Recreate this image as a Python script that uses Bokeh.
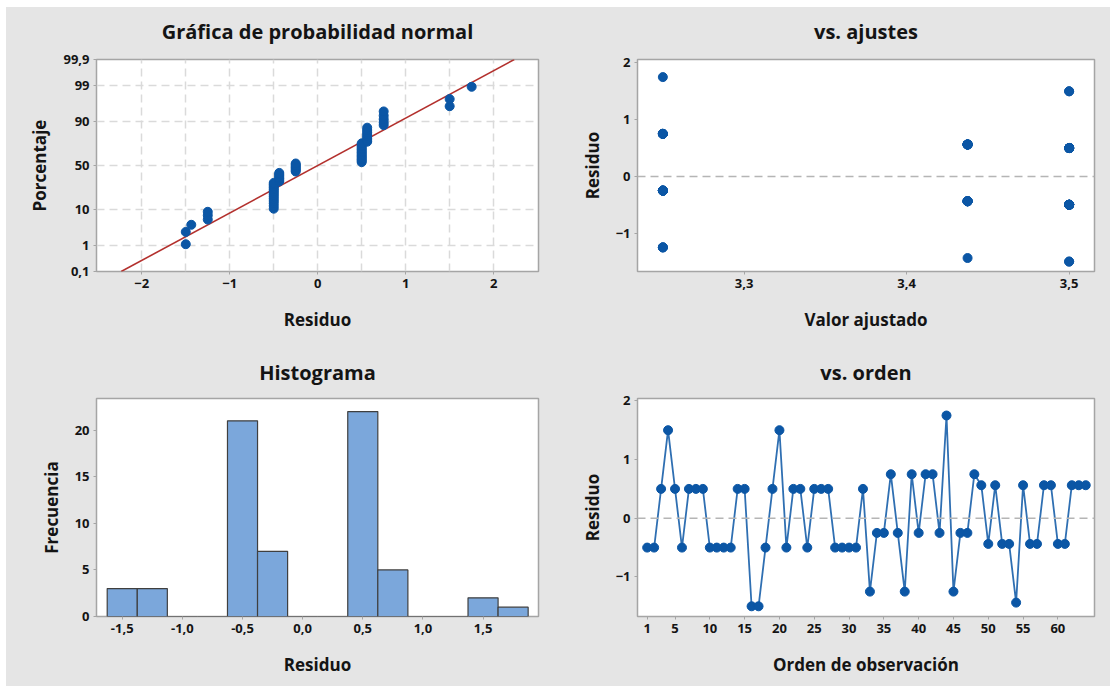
import statistics

import numpy as np
from bokeh.embed import file_html
from bokeh.layouts import column, row
from bokeh.models import FixedTicker, Span
from bokeh.plotting import figure
from bokeh.resources import INLINE

# Residuals in observation order (1..64)
residuo = [
    -0.5, -0.5, 0.5, 1.5, 0.5, -0.5, 0.5, 0.5,
    0.5, -0.5, -0.5, -0.5, -0.5, 0.5, 0.5, -1.5,
    -1.5, -0.5, 0.5, 1.5, -0.5, 0.5, 0.5, -0.5,
    0.5, 0.5, 0.5, -0.5, -0.5, -0.5, -0.5, 0.5,
    -1.25, -0.25, -0.25, 0.75, -0.25, -1.25, 0.75, -0.25,
    0.75, 0.75, -0.25, 1.75, -1.25, -0.25, -0.25, 0.75,
    0.5625, -0.4375, 0.5625, -0.4375, -0.4375, -1.4375, 0.5625, -0.4375,
    -0.4375, 0.5625, 0.5625, -0.4375, -0.4375, 0.5625, 0.5625, 0.5625,
]

# Fitted values in observation order
ajuste = [
    3.5, 3.5, 3.5, 3.5, 3.5, 3.5, 3.5, 3.5,
    3.5, 3.5, 3.5, 3.5, 3.5, 3.5, 3.5, 3.5,
    3.5, 3.5, 3.5, 3.5, 3.5, 3.5, 3.5, 3.5,
    3.5, 3.5, 3.5, 3.5, 3.5, 3.5, 3.5, 3.5,
    3.25, 3.25, 3.25, 3.25, 3.25, 3.25, 3.25, 3.25,
    3.25, 3.25, 3.25, 3.25, 3.25, 3.25, 3.25, 3.25,
    3.4375, 3.4375, 3.4375, 3.4375, 3.4375, 3.4375, 3.4375, 3.4375,
    3.4375, 3.4375, 3.4375, 3.4375, 3.4375, 3.4375, 3.4375, 3.4375,
]

orden = list(range(1, len(residuo) + 1))

# Tick labels (decimal comma)
pct_ticks = [0.1, 1, 10, 50, 90, 99, 99.9]
pct_labels = ["0,1", "1", "10", "50", "90", "99", "99,9"]
hist_ticks = [-1.5, -1.0, -0.5, 0.0, 0.5, 1.0, 1.5]
hist_labels = ["-1,5", "-1,0", "-0,5", "0,0", "0,5", "1,0", "1,5"]
fit_ticks = [3.3, 3.4, 3.5]
fit_labels = ["3,3", "3,4", "3,5"]
order_ticks = [1, 5, 10, 15, 20, 25, 30, 35, 40, 45, 50, 55, 60]

BG = "#e5e5e5"
BLUE = "#0b56a5"
FONT = "Open Sans"
TXT = "#141414"


def panel(w, h, left, right, top, bottom, x_range, y_range, title, title_gap):
    p = figure(width=w, height=h, x_range=x_range, y_range=y_range,
               output_backend="svg", toolbar_location=None,
               min_border_left=left, min_border_right=right,
               min_border_top=top, min_border_bottom=bottom)
    # the grey surround is painted by the enclosing layout
    p.border_fill_color = None
    p.background_fill_color = "white"
    p.outline_line_color = "#a5a5a5"
    p.outline_line_width = 1.5
    p.title.text = title
    p.title.align = "center"
    p.title.text_font = FONT
    p.title.text_font_size = "20px"
    p.title.text_font_style = "bold"
    p.title.text_color = TXT
    p.title.standoff = title_gap
    p.grid.visible = False
    for ax in p.axis:
        ax.axis_line_color = None
        ax.major_tick_out = 3
        ax.major_tick_in = 0
        ax.minor_tick_out = 0
        ax.minor_tick_in = 0
        ax.major_tick_line_color = "#a5a5a5"
        ax.major_label_text_font = FONT
        ax.major_label_text_font_size = "13px"
        ax.major_label_text_font_style = "bold"
        ax.major_label_text_color = TXT
        ax.major_label_standoff = 4
        ax.axis_label_text_font = FONT
        ax.axis_label_text_font_size = "17px"
        ax.axis_label_text_font_style = "bold"
        ax.axis_label_text_color = TXT
    p.xaxis.axis_label_standoff = 17
    p.yaxis.axis_label_standoff = 9
    return p


def zero_line(p):
    p.add_layout(Span(location=0, dimension="width", line_color="#b5b5b5",
                      line_width=1.5, line_dash="8 5"))


# --- Normal probability plot -------------------------------------------
nd = statistics.NormalDist()
n = len(residuo)
res_sorted = sorted(residuo)
z_rank = [nd.inv_cdf((i + 1 - 0.3) / (n + 0.4)) for i in range(n)]
media = statistics.mean(residuo)
desv = statistics.stdev(residuo)
z_lo, z_hi = nd.inv_cdf(0.001), nd.inv_cdf(0.999)
z_ticks = [nd.inv_cdf(v / 100) for v in pct_ticks]

p1 = panel(555, 343, 96, 17, 59, 72, (-2.515, 2.51),
           (z_lo - 1e-6, z_hi + 1e-6), "Gráfica de probabilidad normal", 29)
p1.xaxis.ticker = FixedTicker(ticks=[-2, -1, 0, 1, 2])
p1.yaxis.ticker = FixedTicker(ticks=z_ticks)
p1.yaxis.major_label_overrides = dict(zip(z_ticks, pct_labels))
p1.xaxis.axis_label = "Residuo"
p1.yaxis.axis_label = "Porcentaje"
p1.xgrid.visible = True
p1.ygrid.visible = True
p1.xgrid.ticker = FixedTicker(ticks=[-2, -1.5, -1, -0.5, 0, 0.5, 1, 1.5, 2])
p1.ygrid.ticker = FixedTicker(ticks=z_ticks[1:-1])
for g in (p1.xgrid, p1.ygrid):
    g.grid_line_color = "#dadada"
    g.grid_line_width = 1.5
    g.grid_line_dash = "8 5"
p1.line([media + desv * z_lo, media + desv * z_hi], [z_lo, z_hi],
        line_color="#b3302d", line_width=1.6)
p1.scatter(res_sorted, z_rank, size=9, fill_color=BLUE, line_color=BLUE)

# --- Residuals vs fitted ------------------------------------------------
p2 = panel(555, 343, 82, 16, 59, 72, (3.2344, 3.5156), (-1.675, 2.06),
           "vs. ajustes", 29)
p2.xaxis.ticker = FixedTicker(ticks=fit_ticks)
p2.xaxis.major_label_overrides = dict(zip(fit_ticks, fit_labels))
p2.yaxis.ticker = FixedTicker(ticks=[-1, 0, 1, 2])
p2.xaxis.axis_label = "Valor ajustado"
p2.yaxis.axis_label = "Residuo"
zero_line(p2)
p2.scatter(ajuste, residuo, size=9, fill_color=BLUE, line_color=BLUE)

# --- Histogram ----------------------------------------------------------
edges = np.arange(-1.625, 1.876, 0.25)
counts, edges = np.histogram(residuo, bins=edges)
p3 = panel(555, 343, 96, 17, 55, 70, (-1.714, 1.961), (0, 23.4), "Histograma", 25)
p3.xaxis.ticker = FixedTicker(ticks=hist_ticks)
p3.xaxis.major_label_overrides = dict(zip(hist_ticks, hist_labels))
p3.yaxis.ticker = FixedTicker(ticks=[0, 5, 10, 15, 20])
p3.xaxis.axis_label = "Residuo"
p3.yaxis.axis_label = "Frecuencia"
p3.quad(left=edges[:-1], right=edges[1:], bottom=0, top=counts,
        fill_color="#7ba7db", line_color="#3f3f3f", line_width=1.2)

# --- Residuals vs order -------------------------------------------------
p4 = panel(555, 343, 82, 16, 55, 70, (-0.39, 65.26), (-1.674, 2.04), "vs. orden", 25)
p4.xaxis.ticker = FixedTicker(ticks=order_ticks)
p4.yaxis.ticker = FixedTicker(ticks=[-1, 0, 1, 2])
p4.xaxis.axis_label = "Orden de observación"
p4.yaxis.axis_label = "Residuo"
zero_line(p4)
p4.line(orden, residuo, line_color=BLUE, line_width=1.8, line_alpha=0.85)
p4.scatter(orden, residuo, size=9, fill_color=BLUE, line_color=BLUE)

# grey panel with a thin white strip along the top and left edges
page_style = {
    "background": ("linear-gradient(to bottom, white 0px, white 7px, transparent 7px), "
                   f"linear-gradient(to right, white 0px, white 6px, {BG} 6px)"),
}
layout = column(row(p1, p2), row(p3, p4), styles=page_style)

with open("out.html", "w") as f:
    f.write(file_html(layout, INLINE))
